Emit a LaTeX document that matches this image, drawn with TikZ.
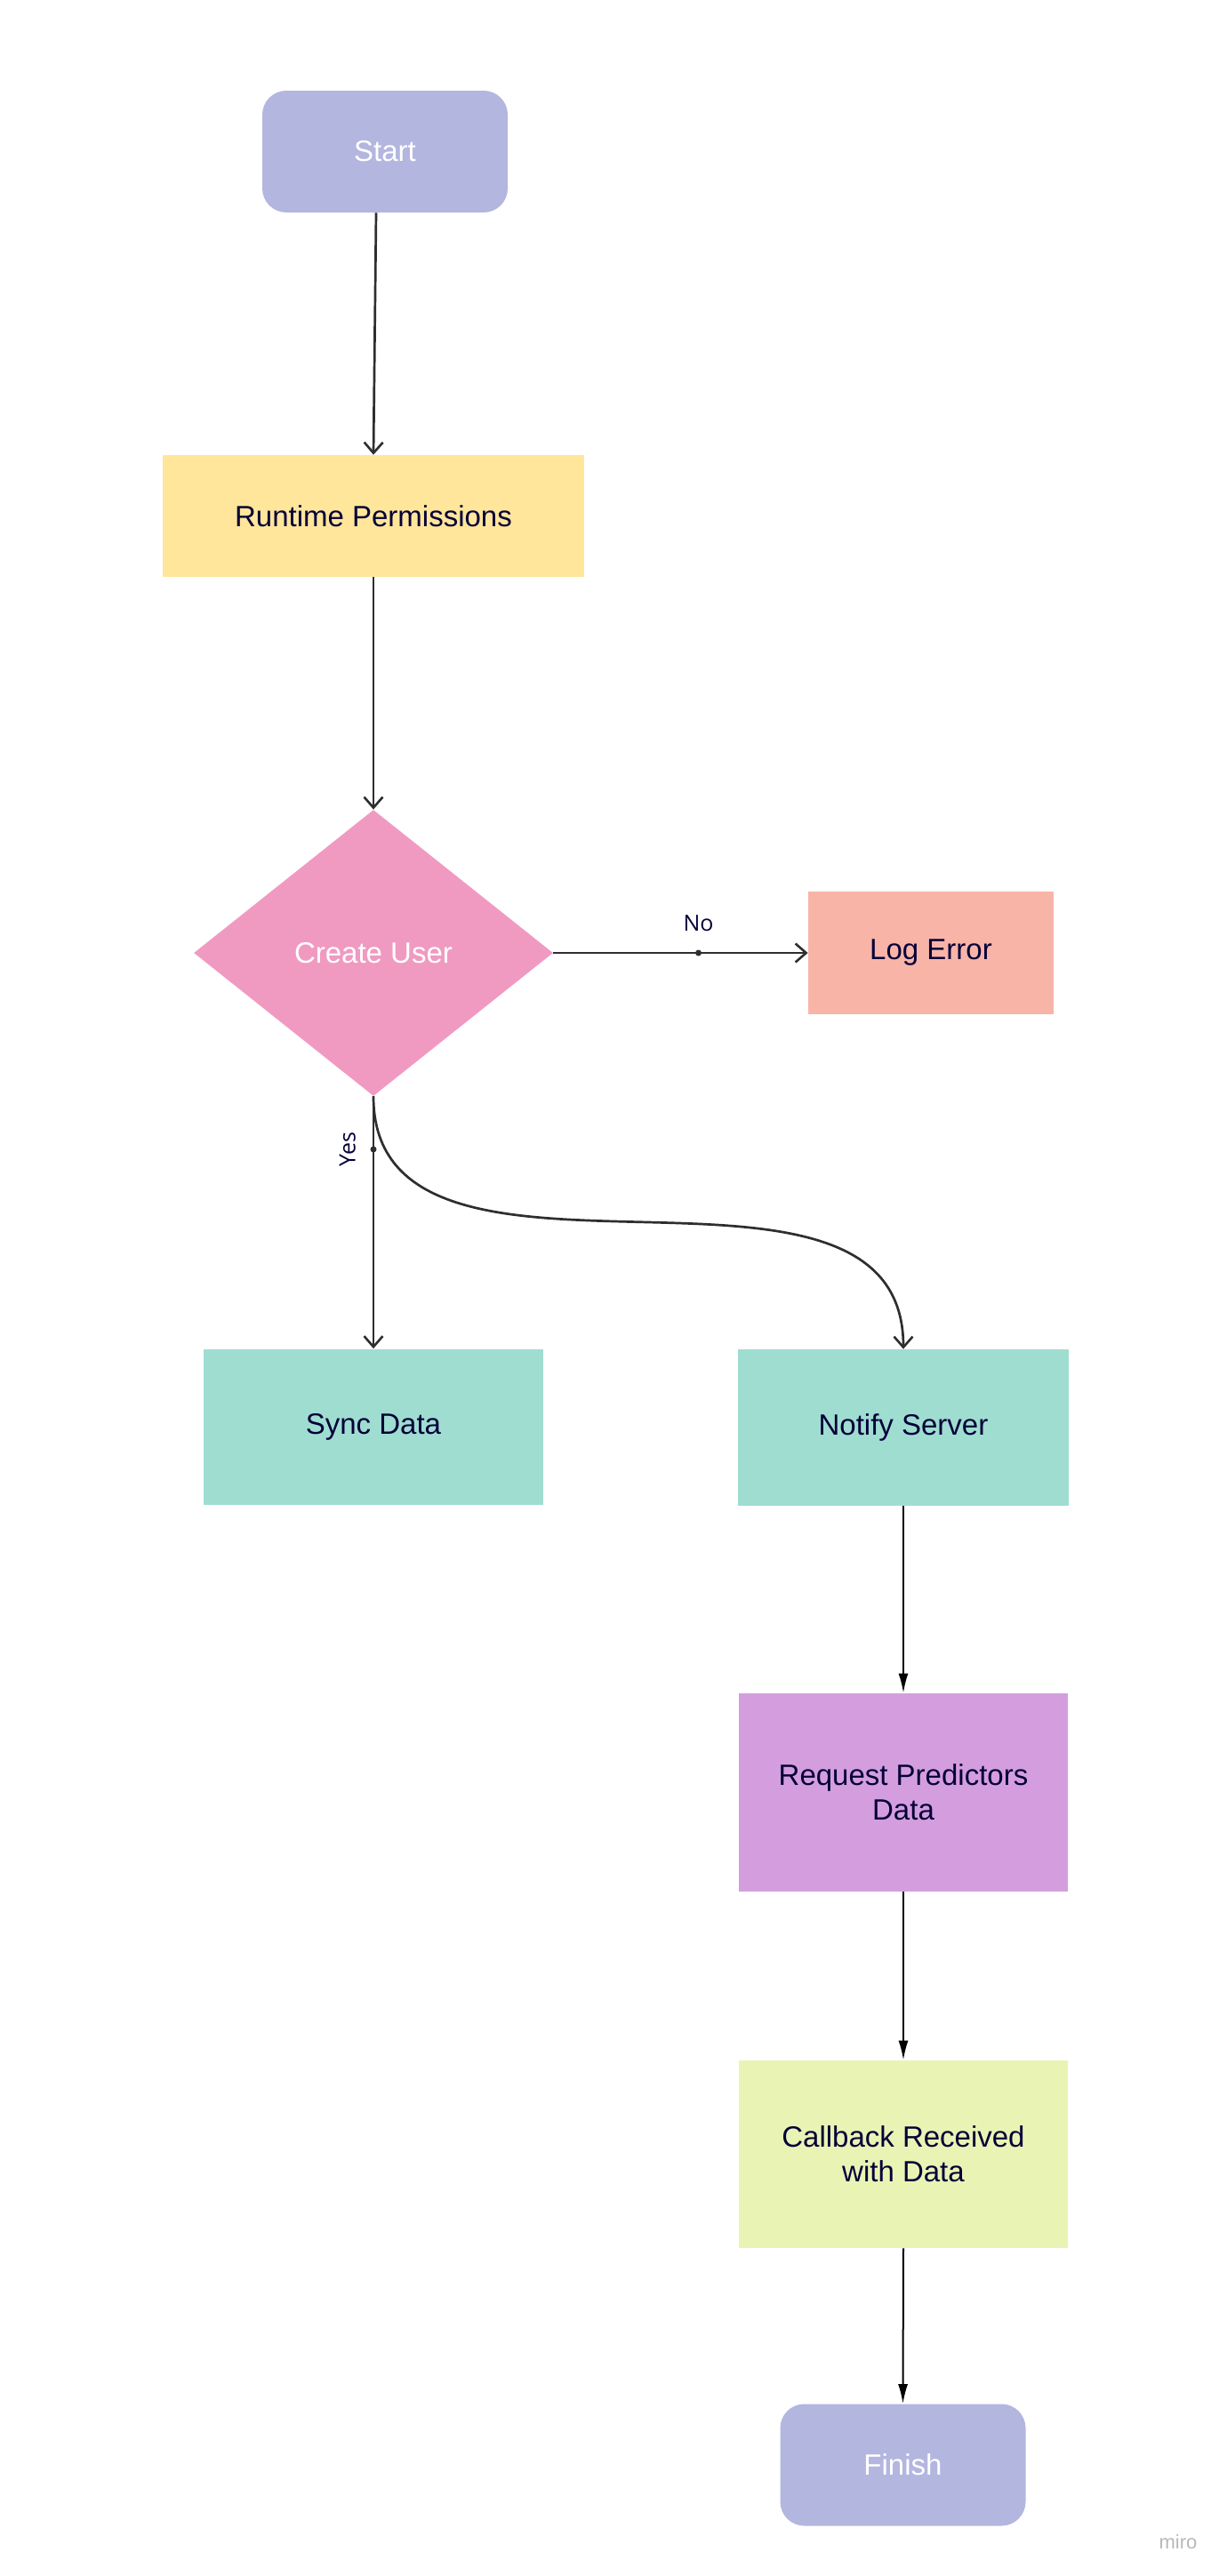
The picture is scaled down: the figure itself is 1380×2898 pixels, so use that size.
\documentclass[tikz,border=0pt]{standalone}
\usepackage{fontspec}
\setmainfont{Liberation Sans}
\newfontfamily\labelfont{Open Sans}
\usetikzlibrary{shapes.geometric,arrows.meta}
\definecolor{ink}{HTML}{050038}
\definecolor{lav}{HTML}{B3B6DF}
\definecolor{sand}{HTML}{FFE69A}
\definecolor{pinkd}{HTML}{F09AC2}
\definecolor{salmon}{HTML}{F9B4A8}
\definecolor{teal}{HTML}{9FDDD1}
\definecolor{lilac}{HTML}{D49EDE}
\definecolor{lime}{HTML}{E9F4B4}
\definecolor{wire}{HTML}{2E2E2E}
\tikzset{
  box/.style={draw=none, inner sep=2pt, align=center, text=ink, font=\fontsize{16.5}{19.5}\selectfont},
  term/.style={box, fill=lav, rounded corners=13.5pt, text=white, minimum width=138pt, minimum height=68.5pt},
  openarrow/.style={draw=wire, line width=1.35pt, -{Straight Barb[length=6pt,width=10.5pt,line width=1.3pt]}},
  fillarrow/.style={draw=black, line width=1pt, -{Latex[length=11pt,width=5.5pt]}},
  edgelabel/.style={text=ink, font=\labelfont\fontsize{12.5}{14}\selectfont},
  anchordot/.style={circle, fill=wire, inner sep=0pt, minimum size=3.5pt}
}
\begin{document}
\begin{tikzpicture}[x=0.5pt,y=-0.5pt]
\useasboundingbox (0,0) rectangle (1380,2898);
\node[term] (start) at (433,170.5) {Start};
\node[box, fill=sand, minimum width=237pt, minimum height=68.5pt] (perm) at (420,580.5) {Runtime Permissions};
\node[box, shape=diamond, fill=pinkd, text=white, aspect=1.25, minimum width=202pt, minimum height=161pt, inner sep=0pt] (cu) at (420,1072) {Create User};
\node[box, fill=salmon, minimum width=138pt, minimum height=69pt] (log) at (1047,1072) {Log Error};
\node[box, fill=teal, minimum width=191pt, minimum height=87.5pt] (sync) at (420,1605) {Sync Data};
\node[box, fill=teal, minimum width=186pt, minimum height=88pt] (notify) at (1016,1606) {Notify Server};
\node[box, fill=lilac, minimum width=185pt, minimum height=111.5pt] (req) at (1016,2016.5) {Request Predictors\\Data};
\node[box, fill=lime, minimum width=185pt, minimum height=105.5pt] (cb) at (1016,2423.5) {Callback Received\\with Data};
\node[term] (fin) at (1015.5,2773) {Finish};
\node[text=black!28, font=\fontsize{11}{13}\selectfont] (miro) at (1325,2860) {miro};

\draw[openarrow] ([xshift=-5pt]start.south) -- (perm.north);
\draw[openarrow] (perm.south) -- (cu.north);
\draw[openarrow] (cu.east) -- node[pos=0.57, anchordot] (nodot) {} node[pos=0.57, above=8pt, edgelabel] (nolbl) {No} (log.west);
\draw[openarrow] (cu.south) -- node[pos=0.21, anchordot] (yesdot) {} node[pos=0.21, left=6pt, rotate=90, anchor=south, edgelabel] (yeslbl) {Yes} (sync.north);
\draw[openarrow] (cu.south) .. controls +(0,267) and +(0,-268) .. (notify.north);
\draw[fillarrow] (notify.south) -- (req.north);
\draw[fillarrow] (req.south) -- (cb.north);
\draw[fillarrow] (cb.south) -- (fin.north);
\end{tikzpicture}
\end{document}
